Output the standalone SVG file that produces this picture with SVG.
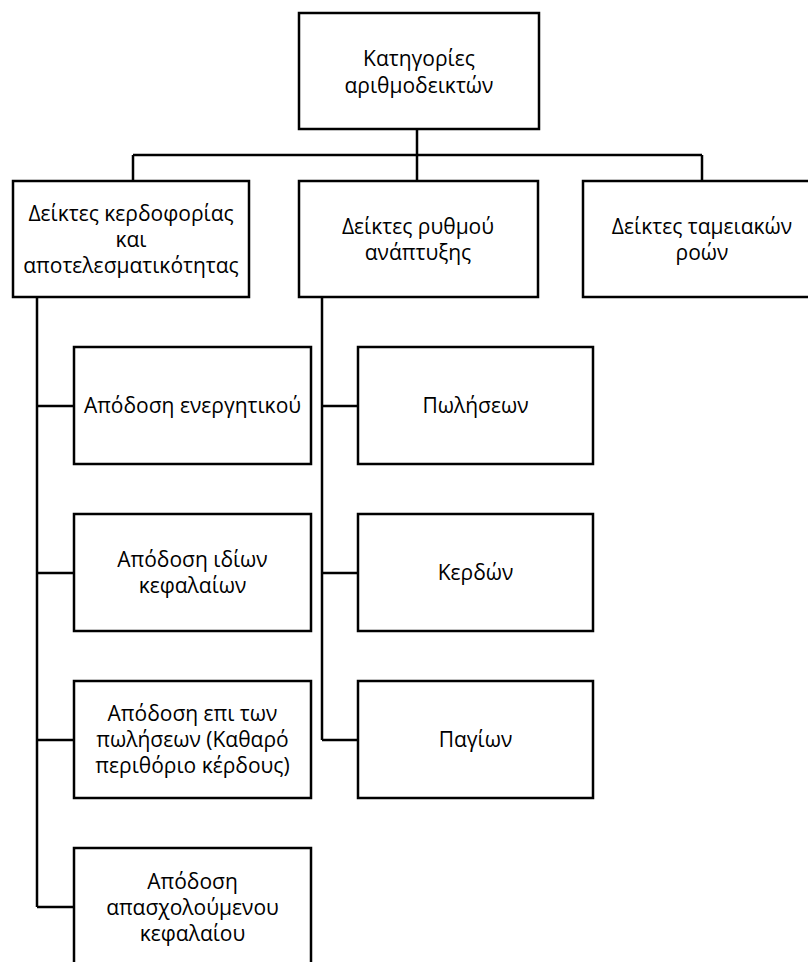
<svg xmlns="http://www.w3.org/2000/svg" width="808" height="962" viewBox="0 0 808 962">
<style>
.box{fill:#fff;stroke:#000;stroke-width:2.5}
.ln{fill:none;stroke:#000;stroke-width:2.5}
text{font-family:"Open Sans","Noto Sans","DejaVu Sans",sans-serif;font-size:21px;fill:#000;text-anchor:middle}
</style>
<rect width="808" height="962" fill="#fff"/>
<g id="connectors">
<path class="ln" d="M417 129V155M133 155H702M133 155V181M417 155V181M702 155V181"/>
<path class="ln" d="M37 297V907M37 406H74M37 573H74M37 740H74M37 907H74"/>
<path class="ln" d="M322 297V740M322 406H358M322 573H358M322 740H358"/>
</g>
<g id="root"><rect class="box" x="299" y="13" width="240" height="116"/>
<text x="419" y="66">Κατηγορίες</text><text x="419" y="93">αριθμοδεικτών</text></g>
<g id="profitability"><rect class="box" x="13" y="181" width="236" height="116"/>
<text x="131" y="221">Δείκτες κερδοφορίας</text><text x="131" y="247">και</text><text x="131" y="273">αποτελεσματικότητας</text></g>
<g id="growth"><rect class="box" x="299" y="181" width="239" height="116"/>
<text x="418" y="234">Δείκτες ρυθμού</text><text x="418" y="260">ανάπτυξης</text></g>
<g id="cashflow"><rect class="box" x="583" y="181" width="239" height="116"/>
<text x="702" y="234">Δείκτες ταμειακών</text><text x="702" y="260">ροών</text></g>
<g id="roa"><rect class="box" x="74" y="347" width="237" height="117"/>
<text x="192.5" y="413">Απόδοση ενεργητικού</text></g>
<g id="roe"><rect class="box" x="74" y="514" width="237" height="117"/>
<text x="192.5" y="567">Απόδοση ιδίων</text><text x="192.5" y="593">κεφαλαίων</text></g>
<g id="ros"><rect class="box" x="74" y="681" width="237" height="117"/>
<text x="192.5" y="721">Απόδοση επι των</text><text x="192.5" y="747">πωλήσεων (Καθαρό</text><text x="192.5" y="773">περιθόριο κέρδους)</text></g>
<g id="roce"><rect class="box" x="74" y="848" width="237" height="117"/>
<text x="192.5" y="889">Απόδοση</text><text x="192.5" y="915">απασχολούμενου</text><text x="192.5" y="941">κεφαλαίου</text></g>
<g id="sales"><rect class="box" x="358" y="347" width="235" height="117"/>
<text x="475.5" y="413">Πωλήσεων</text></g>
<g id="profits"><rect class="box" x="358" y="514" width="235" height="117"/>
<text x="475.5" y="580">Κερδών</text></g>
<g id="fixed"><rect class="box" x="358" y="681" width="235" height="117"/>
<text x="475.5" y="747">Παγίων</text></g>
</svg>
